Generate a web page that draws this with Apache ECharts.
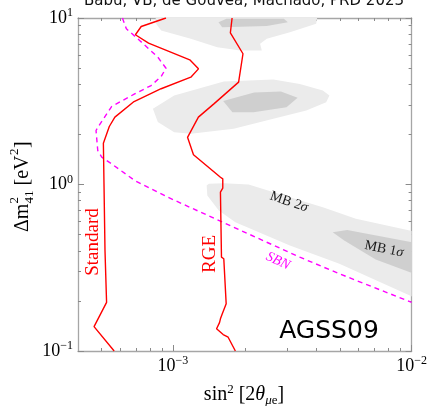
<!DOCTYPE html>
<html>
<head>
<meta charset="utf-8">
<script src="https://cdn.jsdelivr.net/npm/echarts@6/dist/echarts.min.js"></script>
<style>
  html, body { margin: 0; padding: 0; background: #fff; }
  #chart { width: 430px; height: 406px; }
</style>
</head>
<body>
<div id="chart"></div>
<script>
// Axis ranges and tick values (sin^2 2θ_μe on x, Δm²_41 in eV² on y)
const xRange = [4e-4, 1e-2];
const yRange = [0.1, 10];
const xMajorTicks = [1e-3, 1e-2];
const xMinorTicks = [5e-4, 6e-4, 7e-4, 8e-4, 9e-4, 2e-3, 3e-3, 4e-3, 5e-3, 6e-3, 7e-3, 8e-3, 9e-3];
const yMajorTicks = [0.1, 1, 10];
const yMinorTicks = [0.2, 0.3, 0.4, 0.5, 0.6, 0.7, 0.8, 0.9, 2, 3, 4, 5, 6, 7, 8, 9];

// Solar-neutrino bound, standard mixing
const standardCurve = [
  [9.35e-4, 10], [7.36e-4, 8.89], [6.96e-4, 7.93], [7.90e-4, 7.06], [1.176e-3, 5.61],
  [1.279e-3, 4.95], [1.188e-3, 4.41], [8.92e-4, 3.76], [6.87e-4, 3.15], [5.71e-4, 2.54],
  [5.41e-4, 2.23], [5.11e-4, 1.77], [5.14e-4, 1.01], [5.19e-4, 0.402], [5.27e-4, 0.196],
  [4.67e-4, 0.140], [5.67e-4, 0.1]
];

// Solar-neutrino bound with RGE running
const rgeCurve = [
  [1.769e-3, 10], [1.740e-3, 8.15], [1.965e-3, 6.10], [1.884e-3, 4.12], [1.484e-3, 3.05],
  [1.278e-3, 2.54], [1.151e-3, 1.92], [1.219e-3, 1.51], [1.581e-3, 1.106], [1.617e-3, 1.082],
  [1.617e-3, 0.950], [1.581e-3, 0.899], [1.597e-3, 0.366], [1.633e-3, 0.358], [1.671e-3, 0.192],
  [1.608e-3, 0.167], [1.581e-3, 0.156], [1.567e-3, 0.148], [1.523e-3, 0.136], [1.623e-3, 0.1256],
  [1.703e-3, 0.121], [1.826e-3, 0.1]
];

// SBN projected sensitivity
const sbnCurve = [
  [6.14e-4, 10], [6.38e-4, 8.61], [7.25e-4, 7.33], [8.64e-4, 5.82], [9.35e-4, 4.99],
  [8.92e-4, 4.45], [8.10e-4, 3.93], [6.91e-4, 3.50], [5.53e-4, 2.94], [4.90e-4, 2.26],
  [4.76e-4, 2.11], [4.84e-4, 1.60], [5.03e-4, 1.46], [5.53e-4, 1.33], [6.91e-4, 1.057],
  [9.51e-4, 0.839], [1.306e-3, 0.682], [1.796e-3, 0.554], [2.472e-3, 0.450], [3.40e-3, 0.366],
  [4.98e-3, 0.291], [1.0e-2, 0.196]
];

// MiniBooNE allowed regions (2σ light, 1σ dark)
const mb2SigmaTop = [
  [8.42e-4, 11], [8.50e-4, 9.23], [8.92e-4, 8.41], [1.188e-3, 7.50], [1.533e-3, 6.68],
  [1.915e-3, 6.38], [2.357e-3, 6.38], [2.318e-3, 7.00], [2.472e-3, 7.50], [3.09e-3, 8.22],
  [3.98e-3, 9.23], [4.07e-3, 11]
];
const mb1SigmaTop = [
  [1.675e-3, 9.9], [1.552e-3, 9.44], [1.608e-3, 8.81], [2.472e-3, 8.95], [3.03e-3, 9.44], [2.915e-3, 9.9]
];
const mb2SigmaMid = [
  [8.24e-4, 2.85], [8.64e-4, 2.37], [1.012e-3, 2.06], [1.188e-3, 2.02], [1.796e-3, 2.16],
  [2.633e-3, 2.48], [3.62e-3, 2.78], [4.385e-3, 3.12], [4.525e-3, 3.42], [4.245e-3, 3.67],
  [3.40e-3, 4.02], [2.633e-3, 4.27], [1.633e-3, 4.16], [1.012e-3, 3.42]
];
const mb1SigmaMid = [
  [1.623e-3, 3.17], [1.774e-3, 2.72], [2.175e-3, 2.72], [2.99e-3, 2.91], [3.33e-3, 3.32],
  [2.834e-3, 3.62], [2.189e-3, 3.57]
];
const mb2SigmaLow = [
  [1.414e-3, 1.01], [1.384e-3, 0.986], [1.393e-3, 0.859], [1.556e-3, 0.698], [1.826e-3, 0.594],
  [3.09e-3, 0.430], [4.98e-3, 0.334], [1.07e-2, 0.204], [1.07e-2, 0.515], [5.84e-3, 0.622],
  [4.245e-3, 0.731], [3.09e-3, 0.839], [2.074e-3, 1.0], [1.633e-3, 1.018]
];
const mb1SigmaLow = [
  [4.67e-3, 0.517], [5.37e-3, 0.533], [1.07e-2, 0.442], [1.07e-2, 0.284], [7.07e-3, 0.354], [5.22e-3, 0.461]
];

const SERIF = '"Liberation Serif", "DejaVu Serif", serif';
const LIGHT = '#ebebeb';
const DARK = '#cfcfcf';
const FRAME = '#a6a6a6';

function powerLabel(v) {
  const e = Math.round(Math.log10(v));
  return '{b|10}{s|' + (e < 0 ? '\u2212' + (-e) : String(e)) + '}';
}
const powerRich = {
  b: { fontFamily: SERIF, fontSize: 18, lineHeight: 22, color: '#000' },
  s: { fontFamily: SERIF, fontSize: 12, lineHeight: 12, verticalAlign: 'top', color: '#000' }
};

function makeAxis(dim, range, position, ticks, tickLen, withLine, withLabels) {
  return {
    type: 'log', logBase: 10, min: range[0], max: range[1], position: position,
    gridIndex: 0,
    axisLine: { show: withLine, onZero: false, lineStyle: { color: FRAME, width: 1.3 } },
    axisTick: { show: true, inside: true, length: tickLen, customValues: ticks, lineStyle: { color: '#8a8a8a', width: 1 } },
    axisLabel: withLabels ? {
      show: true, customValues: ticks, formatter: powerLabel, rich: powerRich, margin: dim === 'x' ? 4 : 5
    } : { show: false },
    splitLine: { show: false },
    minorTick: { show: false }
  };
}

function regionSeries(name, points, color) {
  return {
    name: name, type: 'custom', coordinateSystem: 'cartesian2d', xAxisIndex: 0, yAxisIndex: 0,
    data: points, silent: true, z: 1,
    renderItem: function (params, api) {
      if (params.dataIndex !== 0) return null;
      const cs = params.coordSys;
      return {
        type: 'polygon',
        shape: { points: points.map(function (p) { return api.coord(p); }) },
        style: { fill: color, stroke: null },
        clipPath: { type: 'rect', shape: { x: cs.x, y: cs.y, width: cs.width, height: cs.height } }
      };
    }
  };
}

function curveSeries(name, points, color, dashed) {
  return {
    name: name, type: 'line', xAxisIndex: 0, yAxisIndex: 0, data: points,
    showSymbol: false, symbol: 'none', smooth: false, z: 3, clip: true, silent: true,
    lineStyle: { color: color, width: 1.4, type: dashed ? [5, 4] : 'solid' }
  };
}

const chart = echarts.init(document.getElementById('chart'), null, { renderer: 'canvas' });
chart.setOption({
  animation: false,
  backgroundColor: '#fff',
  grid: { left: 78, right: 17, top: 18, bottom: 55, containLabel: false },
  xAxis: [
    makeAxis('x', xRange, 'bottom', xMajorTicks, 6, true, true),
    makeAxis('x', xRange, 'bottom', xMinorTicks, 3, false, false),
    makeAxis('x', xRange, 'top', xMajorTicks, 6, true, false),
    makeAxis('x', xRange, 'top', xMinorTicks, 3, false, false)
  ],
  yAxis: [
    makeAxis('y', yRange, 'left', yMajorTicks, 6, true, true),
    makeAxis('y', yRange, 'left', yMinorTicks, 3, false, false),
    makeAxis('y', yRange, 'right', yMajorTicks, 6, true, false),
    makeAxis('y', yRange, 'right', yMinorTicks, 3, false, false)
  ],
  series: [
    regionSeries('MB 2σ top', mb2SigmaTop, LIGHT),
    regionSeries('MB 2σ mid', mb2SigmaMid, LIGHT),
    regionSeries('MB 2σ low', mb2SigmaLow, LIGHT),
    regionSeries('MB 1σ top', mb1SigmaTop, DARK),
    regionSeries('MB 1σ mid', mb1SigmaMid, DARK),
    regionSeries('MB 1σ low', mb1SigmaLow, DARK),
    curveSeries('SBN', sbnCurve, '#ff00ff', true),
    curveSeries('Standard', standardCurve, '#ff0000', false),
    curveSeries('RGE', rgeCurve, '#ff0000', false)
  ],
  graphic: [
    {
      type: 'text', x: 244, y: -6, silent: true,
      style: { text: 'Babu, VB, de Gouvea, Machado, PRD 2023', font: '15px "DejaVu Sans"', fill: '#111', align: 'center', verticalAlign: 'top' }
    },
    {
      type: 'text', x: 329, y: 331, silent: true, z: 10,
      style: { text: 'AGSS09', font: '25px "DejaVu Sans"', fill: '#000', align: 'center', verticalAlign: 'middle' }
    },
    {
      type: 'text', x: 93, y: 242, rotation: Math.PI / 2, silent: true, z: 10,
      style: { text: 'Standard', font: '19px ' + SERIF, fill: '#ff0000', align: 'center', verticalAlign: 'middle' }
    },
    {
      type: 'text', x: 210, y: 254, rotation: Math.PI / 2, silent: true, z: 10,
      style: { text: 'RGE', font: '19px ' + SERIF, fill: '#ff0000', align: 'center', verticalAlign: 'middle' }
    },
    {
      type: 'text', x: 278, y: 261, rotation: -0.42, silent: true, z: 10,
      style: { text: 'SBN', font: 'italic 14px ' + SERIF, fill: '#ff00ff', align: 'center', verticalAlign: 'middle' }
    },
    {
      type: 'text', x: 289, y: 202, rotation: -0.33, silent: true, z: 10,
      style: {
        text: '{n|MB 2}{i|σ}', align: 'center', verticalAlign: 'middle',
        rich: {
          n: { fontFamily: SERIF, fontSize: 14, fill: '#1a1a1a' },
          i: { fontFamily: SERIF, fontStyle: 'italic', fontSize: 14, fill: '#1a1a1a' }
        }
      }
    },
    {
      type: 'text', x: 384, y: 249, rotation: -0.2, silent: true, z: 10,
      style: {
        text: '{n|MB 1}{i|σ}', align: 'center', verticalAlign: 'middle',
        rich: {
          n: { fontFamily: SERIF, fontSize: 14, fill: '#1a1a1a' },
          i: { fontFamily: SERIF, fontStyle: 'italic', fontSize: 14, fill: '#1a1a1a' }
        }
      }
    },
    {
      // x-axis title: sin² [2θ_μe]
      type: 'text', x: 244, y: 395, silent: true,
      style: {
        text: '{n|sin}{p|2}{n| [2}{i|θ}{q|μ}{r|e}{n|]}', align: 'center', verticalAlign: 'middle',
        rich: {
          n: { fontFamily: SERIF, fontSize: 20, lineHeight: 24, fill: '#000' },
          i: { fontFamily: SERIF, fontStyle: 'italic', fontSize: 20, lineHeight: 24, fill: '#000' },
          p: { fontFamily: SERIF, fontSize: 13, lineHeight: 13, verticalAlign: 'top', fill: '#000' },
          q: { fontFamily: SERIF, fontStyle: 'italic', fontSize: 13, lineHeight: 12, verticalAlign: 'bottom', fill: '#000' },
          r: { fontFamily: SERIF, fontSize: 13, lineHeight: 12, verticalAlign: 'bottom', fill: '#000' }
        }
      }
    },
    {
      // y-axis title: Δm²_41 [eV²], read bottom to top
      type: 'group', x: 23, y: 232, rotation: Math.PI / 2, silent: true,
      children: [
        { type: 'text', x: 0, y: 0, style: { text: 'Δm', font: '20px ' + SERIF, fill: '#000', verticalAlign: 'middle' } },
        { type: 'text', x: 28.5, y: -8, style: { text: '2', font: '13px ' + SERIF, fill: '#000', verticalAlign: 'middle' } },
        { type: 'text', x: 28.5, y: 7, style: { text: '41', font: '13px ' + SERIF, fill: '#000', verticalAlign: 'middle' } },
        { type: 'text', x: 46.5, y: 0, style: { text: '[eV', font: '20px ' + SERIF, fill: '#000', verticalAlign: 'middle' } },
        { type: 'text', x: 77, y: -8, style: { text: '2', font: '13px ' + SERIF, fill: '#000', verticalAlign: 'middle' } },
        { type: 'text', x: 84, y: 0, style: { text: ']', font: '20px ' + SERIF, fill: '#000', verticalAlign: 'middle' } }
      ]
    }
  ]
});
</script>
</body>
</html>
